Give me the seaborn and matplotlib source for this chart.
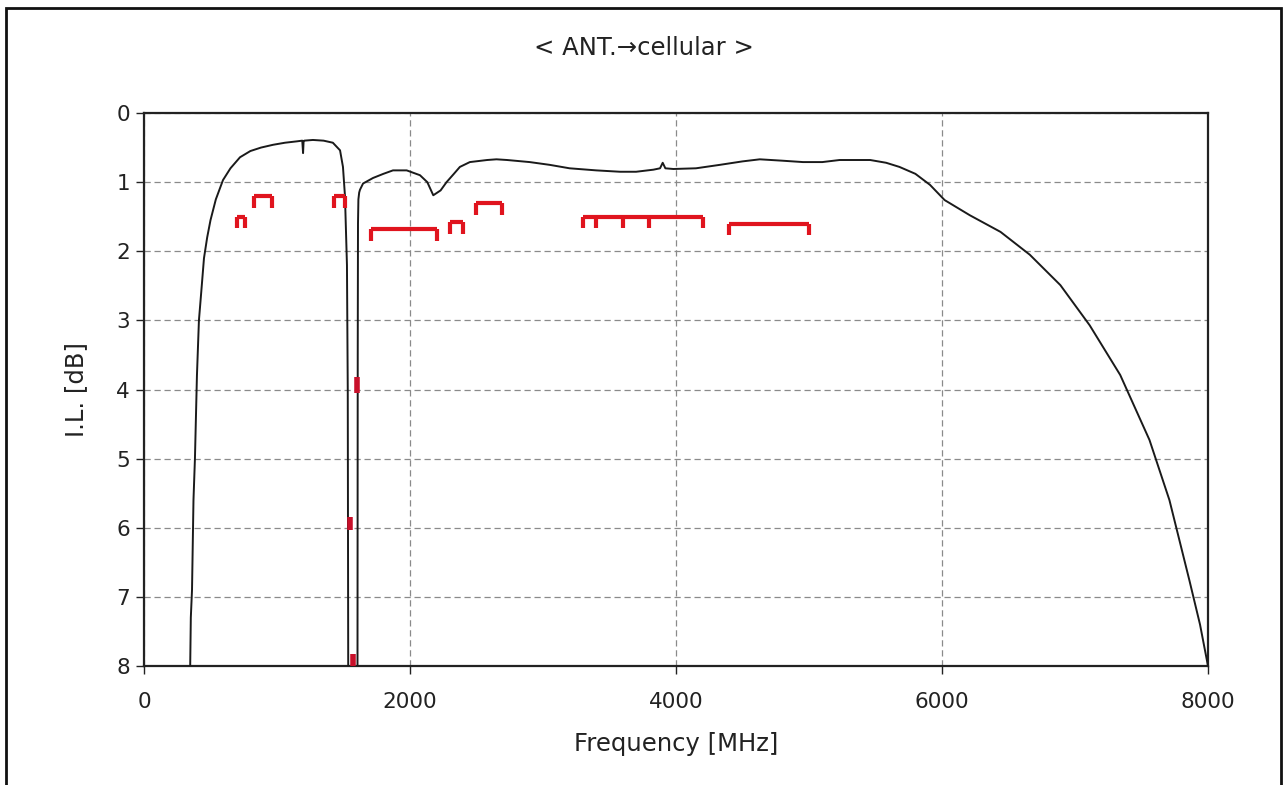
import matplotlib
matplotlib.use("Agg")
import matplotlib.pyplot as plt
import seaborn as sns
import pandas as pd
from matplotlib.patches import Rectangle

# ---------------- data ----------------
freq_mhz = [346, 352, 361, 372, 383, 398, 413, 430, 451, 475, 500, 540, 594, 650,
            722, 800, 880, 970, 1060, 1150, 1190, 1196, 1200, 1205, 1270, 1350,
            1420, 1474, 1496, 1511, 1520, 1526, 1532, 1536,
            1605, 1607, 1609, 1612, 1618, 1624, 1647, 1722, 1800, 1872, 1975,
            2075, 2130, 2175, 2230, 2275, 2330, 2375, 2450, 2580, 2650, 2730,
            2900, 3050, 3200, 3400, 3580, 3700, 3830, 3880, 3900, 3920, 3980,
            4150, 4330, 4500, 4630, 4800, 4955, 5100, 5230, 5460, 5580, 5680,
            5800, 5910, 6020, 6210, 6440, 6660, 6890, 7110, 7340, 7560, 7710,
            7860, 7940, 7990, 8000]
il_db = [8.2, 7.3, 6.9, 5.6, 5.0, 3.8, 3.0, 2.6, 2.1, 1.8, 1.55, 1.25, 0.97, 0.8,
         0.64, 0.55, 0.5, 0.46, 0.43, 0.41, 0.40, 0.58, 0.41, 0.40, 0.39, 0.40,
         0.43, 0.54, 0.78, 1.2, 1.8, 2.2, 4.0, 8.6,
         8.6, 3.5, 1.6, 1.25, 1.15, 1.11, 1.02, 0.94, 0.88, 0.83, 0.83,
         0.9, 1.0, 1.19, 1.12, 1.0, 0.88, 0.78, 0.71, 0.68, 0.67, 0.68,
         0.71, 0.75, 0.80, 0.83, 0.85, 0.85, 0.82, 0.80, 0.72, 0.80, 0.81,
         0.80, 0.75, 0.70, 0.67, 0.69, 0.71, 0.71, 0.68, 0.68, 0.72, 0.78,
         0.88, 1.04, 1.26, 1.48, 1.72, 2.05, 2.49, 3.07, 3.79, 4.73, 5.6,
         6.76, 7.4, 7.9, 8.0]

# operating band markers (red brackets)
band_start = [699, 824, 1427, 1710, 2300, 2496, 3300, 4400]
band_stop = [756, 960, 1511, 2200, 2400, 2690, 4200, 5000]
band_level = [1.5, 1.2, 1.2, 1.68, 1.58, 1.3, 1.5, 1.6]
inner_tick_freq = [3400, 3600, 3800]
inner_tick_level = [1.5, 1.5, 1.5]

# small markers on the notch
mark_freq = [1603, 1550, 1574]
mark_top = [3.82, 5.85, 7.82]
mark_bottom = [4.05, 6.03, 8.0]

x_ticks = [0, 2000, 4000, 6000, 8000]
y_ticks = [0, 1, 2, 3, 4, 5, 6, 7, 8]

title = "< ANT.\u2192cellular >"
x_label = "Frequency [MHz]"
y_label = "I.L. [dB]"

# ---------------- plot ----------------
sns.set_style("white")
plt.rcParams["font.family"] = ["DejaVu Sans"]

fig = plt.figure(figsize=(12.87, 7.85), dpi=100)
ax = fig.add_axes([144 / 1287, 1 - 666 / 785, (1208 - 144) / 1287, (666 - 113) / 785])

df = pd.DataFrame({"freq": freq_mhz, "il": il_db})
sns.lineplot(data=df, x="freq", y="il", ax=ax, color="#1a1a1a", linewidth=1.4,
             sort=False, estimator=None, zorder=3)

red = "#e0141e"
tick_len = 0.17
ax.hlines(band_level, band_start, band_stop, colors=red, linewidth=3.0, zorder=4)
ax.vlines(band_start, band_level, [l + tick_len for l in band_level], colors=red,
          linewidth=3.0, zorder=4)
ax.vlines(band_stop, band_level, [l + tick_len for l in band_level], colors=red,
          linewidth=3.0, zorder=4)
ax.vlines(inner_tick_freq, inner_tick_level, [l + tick_len for l in inner_tick_level],
          colors=red, linewidth=3.0, zorder=4)
ax.vlines(mark_freq, mark_top, mark_bottom, colors="#c8102a", linewidth=4.0, zorder=5)

ax.set_xlim(0, 8000)
ax.set_ylim(8, 0)
ax.set_xticks(x_ticks)
ax.set_yticks(y_ticks)
ax.tick_params(axis="both", direction="out", length=6, width=1.0, color="#222222",
               labelsize=15.5, left=True, bottom=True, labelcolor="#222222")
ax.tick_params(axis="x", pad=13)
ax.tick_params(axis="y", pad=4)
ax.grid(True, color="#8a8a8a", linestyle=(0, (5, 3)), linewidth=0.9)
for s in ax.spines.values():
    s.set_color("#222222")
    s.set_linewidth(1.6)

ax.set_xlabel(x_label, fontsize=17.5, labelpad=14, color="#222222")
ax.set_ylabel(y_label, fontsize=17.5, labelpad=20, color="#222222")
fig.text(0.5, 1 - 48 / 785, title, ha="center", va="center", fontsize=17.5,
         color="#222222")

# outer frame around the figure
fig.patches.append(Rectangle((6 / 1287, -0.05), (1281 - 6) / 1287, 1.05 - 8 / 785,
                             transform=fig.transFigure, fill=False,
                             edgecolor="#111111", linewidth=2.0))

fig.savefig("out.png", dpi=100)
